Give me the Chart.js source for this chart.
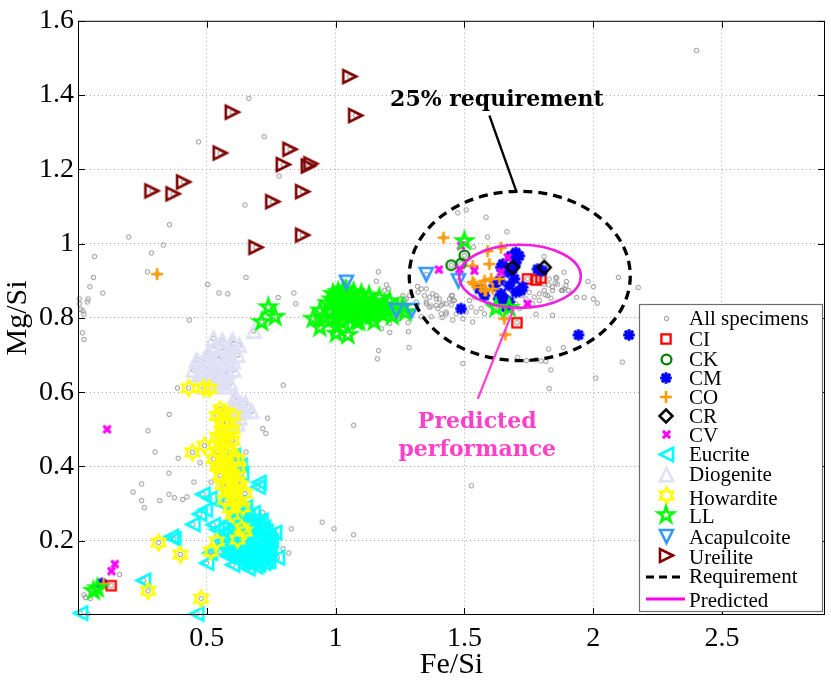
<!DOCTYPE html>
<html><head><meta charset="utf-8">
<script src="https://cdn.jsdelivr.net/npm/chart.js@4.4.1/dist/chart.umd.min.js"></script>
<style>html,body{margin:0;padding:0;background:#fff;overflow:hidden}#wrap{width:831px;height:684px;position:relative}</style>
</head><body><div id="wrap"><canvas id="c" width="831" height="684"></canvas></div>
<script>
// ---------------- DATA (Fe/Si, Mg/Si) ----------------
const groupNames = ['All specimens','CI','CK','CM','CO','CR','CV','Eucrite','Diogenite','Howardite','LL','Acapulcoite','Ureilite'];
const xTickValues = [0.5,1,1.5,2,2.5];
const yTickValues = [0.2,0.4,0.6,0.8,1,1.2,1.4,1.6];

const otherSpecimens = [
 [0.468,1.274],[0.663,1.391],[0.723,1.288],[0.781,1.182],[0.648,1.104],[0.355,1.051],[0.197,1.018],[0.285,0.975],[0.331,0.996],[0.270,0.924],
 [0.064,0.965],[0.060,0.909],[0.046,0.884],[0.096,0.867],[0.039,0.851],[0.036,0.843],[0.005,0.851],[0.005,0.838],[0.010,0.823],[0.019,0.819],
 [0.023,0.810],[0.017,0.760],[0.023,0.742],[0.432,0.794],[0.503,0.890],[0.547,0.867],[0.581,0.865],[0.652,0.909],[0.777,0.855],[0.838,0.867],
 [0.845,0.838],[1.166,0.924],[1.158,0.899],[2.401,1.520],
 [0.386,0.611],[0.797,0.619],[0.354,0.540],[0.272,0.496],[0.736,0.530],[0.717,0.502],[0.729,0.489],[0.299,0.439],[0.389,0.422],[0.474,0.410],
 [0.353,0.382],[0.652,0.439],[0.450,0.358],[0.517,0.358],[0.247,0.353],[0.214,0.331],[0.353,0.325],[0.374,0.316],[0.406,0.311],[0.423,0.318],
 [0.317,0.308],[0.247,0.308],[0.257,0.289],[0.717,0.276],[0.948,0.250],[0.994,0.232],[0.828,0.232],[1.070,0.216],[1.070,0.511],[0.796,0.179],
 [0.818,0.167],[0.161,0.109],[0.023,0.054],[0.029,0.047],[0.048,0.044],[0.038,0.003],
 [1.167,0.712],[1.162,0.690],[1.285,0.720],[1.494,0.677],[1.707,0.694],[1.741,0.685],[1.527,0.348],
 [2.098,0.909],[2.175,0.882],[1.980,0.898],[2.001,0.884],[1.936,0.855],[1.965,0.855],[2.001,0.851],[2.016,0.840],[1.896,0.898],[1.887,0.878],
 [1.904,0.874],[1.877,0.874],[1.858,0.907],[1.853,0.894],[1.809,0.965],[1.827,0.889],[1.842,0.874],[1.814,0.862],[1.836,0.853],[2.113,0.681],
 [1.827,0.716],[1.884,0.720],[1.836,0.660],[2.010,0.638],[1.829,0.610],[1.798,0.684],[1.816,0.683],
 [1.507,1.091],[1.584,1.071],[1.474,1.083],[1.665,1.032],[1.590,1.018],[1.535,0.991],[1.371,0.803],[1.410,0.811],[1.455,0.847],[1.449,0.860],
 [1.778,0.687],[1.778,0.810],[1.842,0.807],[1.887,0.923],
 [1.197,0.889],[1.206,0.878],[1.190,0.874],[1.261,0.860],[1.274,0.851],[1.287,0.860],[1.268,0.847],[1.249,0.851],[1.318,0.885],[1.333,0.878],
 [1.352,0.878],[1.320,0.869],[1.345,0.860],[1.365,0.856],[1.391,0.860],[1.403,0.851],[1.313,0.843],[1.352,0.838],[1.365,0.829],[1.391,0.834],
 [1.410,0.834],[1.429,0.838],[1.453,0.860],[1.461,0.847],[1.429,0.816],[1.468,0.811],[1.333,0.803],[1.236,0.803],[1.249,0.798],[1.281,0.787],
 [1.210,0.785],[1.178,0.771],[1.210,0.761],[1.283,0.763],[1.139,0.811],[1.158,0.816],[1.171,0.829],[1.152,0.834],[1.165,0.847],[1.132,0.856],
 [1.184,0.807],[1.249,0.829],[1.377,0.865],[1.391,0.851],[1.352,0.843],[1.371,0.832],[1.397,0.825],[1.416,0.838],[1.442,0.851],[1.449,0.835],
 [1.429,0.811],[1.507,0.816],[1.526,0.829],[1.545,0.816],[1.565,0.825],[1.578,0.811],[1.520,0.847],[1.539,0.856],[1.597,0.838],[1.616,0.829],
 [1.642,0.838],[1.681,0.851],[1.700,0.838],[1.720,0.860],[1.739,0.851],[1.713,0.825],[1.752,0.869],[1.771,0.856],[1.791,0.865],[1.810,0.874],
 [1.823,0.860],[1.842,0.883],[1.861,0.891],[1.810,0.891],[1.829,0.905],[1.855,0.909],[1.881,0.874],[1.894,0.887],[1.791,0.847],[1.765,0.838],
 [1.662,0.807],[1.494,0.798],[1.532,0.789],[1.455,0.794],[1.414,0.801]
];
const ciData = [[1.745,0.905],[1.778,0.902],[1.797,0.907],[1.704,0.787],[0.129,0.079]];
const ckData = [[1.449,0.942],[1.500,0.968],[1.487,0.946]];
const cmData = [[1.700,0.976],[1.713,0.967],[1.681,0.967],[1.649,0.945],[1.642,0.936],[1.687,0.931],[1.700,0.949],[1.668,0.923],[1.694,0.905],[1.636,0.900],
 [1.616,0.887],[1.558,0.878],[1.578,0.860],[1.642,0.865],[1.655,0.851],[1.674,0.843],[1.726,0.883],[1.720,0.874],[1.784,0.931],[1.803,0.927],
 [1.487,0.825],[1.674,0.887],[1.700,0.869],[1.662,0.829],[1.633,0.851],[1.943,0.754],[2.139,0.754],[0.092,0.085]];
const coData = [[1.419,1.016],[1.590,0.980],[1.642,0.989],[1.597,0.945],[1.532,0.940],[1.539,0.891],[1.578,0.900],[1.604,0.905],[1.636,0.905],[1.578,0.874],
 [1.610,0.878],[1.565,0.883],[1.655,0.798],[1.659,0.755],[1.532,0.896],[1.584,0.874],[0.307,0.918],[0.099,0.084]];
const crData = [[1.687,0.936],[1.810,0.936]];
const cvData = [[1.401,0.930],[1.487,0.994],[1.481,0.931],[1.539,0.927],[1.668,0.963],[1.642,0.923],[1.745,0.838],[0.113,0.500],[0.143,0.137],[0.130,0.118]];
const eucriteData = [[0.010,0.005],[0.461,0.003],[0.254,0.093],[0.363,0.211],[0.372,0.205],[0.472,0.272],[0.446,0.244],[0.494,0.283],[0.485,0.325],[0.512,0.314],
 [0.557,0.300],[0.525,0.243],[0.499,0.140],[0.513,0.167],[0.703,0.357],[0.699,0.345],[0.763,0.222],[0.774,0.154],[0.730,0.145],[0.634,0.256],
 [0.589,0.251],[0.576,0.225],[0.603,0.429],[0.629,0.403],[0.635,0.380],[0.620,0.300],
 [0.560,0.200],[0.580,0.180],[0.600,0.160],[0.620,0.150],[0.640,0.140],[0.660,0.140],[0.680,0.145],[0.700,0.150],[0.720,0.160],[0.740,0.180],
 [0.590,0.215],[0.610,0.195],[0.630,0.175],[0.650,0.165],[0.670,0.160],[0.690,0.170],[0.710,0.190],[0.730,0.205],[0.600,0.235],[0.620,0.225],
 [0.640,0.205],[0.660,0.190],[0.680,0.200],[0.700,0.215],[0.720,0.235],[0.650,0.245],[0.670,0.230],[0.690,0.240],[0.620,0.265],[0.640,0.280],
 [0.660,0.265],[0.710,0.255],[0.580,0.160],[0.550,0.170],[0.600,0.135],[0.660,0.125],[0.690,0.130],[0.740,0.145],[0.750,0.200],[0.540,0.230],
 [0.570,0.190],[0.590,0.170],[0.610,0.175],[0.630,0.155],[0.650,0.150],[0.670,0.145],[0.690,0.155],[0.710,0.165],[0.730,0.175],[0.745,0.165],
 [0.560,0.215],[0.580,0.205],[0.600,0.205],[0.620,0.205],[0.640,0.185],[0.660,0.175],[0.680,0.180],[0.700,0.185],[0.720,0.195],[0.740,0.210],
 [0.610,0.245],[0.630,0.240],[0.650,0.225],[0.670,0.210],[0.690,0.220],[0.710,0.230],[0.730,0.225],[0.680,0.255],[0.700,0.245],[0.600,0.280],
 [0.650,0.290],[0.680,0.275],[0.610,0.150],[0.640,0.160],[0.700,0.135],[0.720,0.140]];
const diogeniteData = [[0.526,0.745],[0.603,0.731],[0.626,0.727],[0.506,0.707],[0.532,0.724],[0.552,0.696],[0.584,0.714],[0.603,0.683],[0.474,0.674],[0.448,0.660],
 [0.500,0.660],[0.539,0.669],[0.578,0.678],[0.603,0.660],[0.461,0.634],[0.526,0.643],[0.565,0.634],[0.590,0.625],[0.487,0.616],[0.552,0.616],
 [0.461,0.687],[0.616,0.576],[0.648,0.549],[0.616,0.545],[0.674,0.549],[0.603,0.514],[0.629,0.531],[0.683,0.765],[0.520,0.690],[0.570,0.650],
 [0.640,0.560],[0.600,0.560],
 [0.490,0.690],[0.510,0.680],[0.540,0.700],[0.560,0.720],[0.580,0.700],[0.500,0.640],[0.540,0.650],[0.580,0.655],[0.470,0.650],[0.510,0.625],
 [0.540,0.625],[0.570,0.615],[0.620,0.700],[0.600,0.740],[0.560,0.740],[0.610,0.590],[0.630,0.570],[0.650,0.570],[0.590,0.545],[0.620,0.515]];
const howarditeData = [[0.429,0.611],[0.487,0.611],[0.510,0.609],[0.552,0.554],[0.571,0.545],[0.603,0.536],[0.539,0.536],[0.578,0.518],[0.558,0.496],[0.444,0.438],
 [0.491,0.456],[0.526,0.420],[0.552,0.456],[0.578,0.465],[0.590,0.438],[0.603,0.420],[0.558,0.403],[0.590,0.394],[0.623,0.394],[0.552,0.376],
 [0.590,0.367],[0.610,0.340],[0.648,0.327],[0.603,0.305],[0.590,0.287],[0.623,0.305],[0.636,0.234],[0.648,0.225],[0.619,0.203],[0.313,0.195],
 [0.397,0.163],[0.539,0.198],[0.516,0.171],[0.272,0.065],[0.478,0.044],[0.570,0.430],[0.540,0.440],[0.620,0.360],[0.580,0.330],[0.600,0.470],
 [0.560,0.470],[0.580,0.490],[0.560,0.520],[0.600,0.500],[0.540,0.480],[0.620,0.420],[0.570,0.400],[0.600,0.380],[0.580,0.350],[0.630,0.350],
 [0.610,0.320],[0.570,0.310],[0.640,0.290],[0.600,0.270],[0.540,0.400],[0.560,0.350]];
const llData = [[0.739,0.829],[0.765,0.803],[0.713,0.789],[0.913,0.798],[0.939,0.774],[1.003,0.758],[1.048,0.754],[1.500,1.007],[1.623,0.827],[1.674,0.827],
 [0.060,0.065],[0.075,0.072],
 [0.960,0.800],[0.980,0.815],[1.000,0.830],[1.010,0.845],[1.020,0.860],[1.030,0.875],[1.040,0.850],[1.050,0.835],[1.060,0.820],[1.070,0.805],
 [1.080,0.790],[1.000,0.800],[1.020,0.790],[1.040,0.810],[1.060,0.860],[1.080,0.845],[1.090,0.830],[1.100,0.815],[1.110,0.850],[1.120,0.835],
 [1.130,0.820],[1.140,0.805],[1.150,0.840],[1.160,0.825],[1.170,0.855],[1.180,0.810],[1.190,0.835],[1.200,0.820],[1.210,0.845],[1.220,0.805],
 [1.240,0.825],[1.260,0.830],[1.270,0.815],[0.990,0.865],[1.010,0.870],[1.040,0.875],[1.070,0.870],[1.100,0.865],[1.130,0.860],[0.970,0.840],
 [0.940,0.820],[1.025,0.820],[1.055,0.800],[1.115,0.800],[1.150,0.790],[1.090,0.790],[1.005,0.775],[0.985,0.850],[1.045,0.840],[1.075,0.825]];
const acapulcoiteData = [[1.042,0.896],[1.236,0.820],[1.296,0.820],[1.352,0.917],[1.477,0.900]];
const ureiliteData = [[1.055,1.450],[1.078,1.345],[0.599,1.354],[0.552,1.244],[0.823,1.254],[0.797,1.213],[0.894,1.209],[0.904,1.215],[0.872,1.140],[0.756,1.113],
 [0.872,1.023],[0.691,0.990],[0.287,1.142],[0.369,1.134],[0.410,1.166]];

// requirement / predicted ellipses: centre and half-axes in data units
const requirementEllipse = {cx:1.715, cy:0.913, rx:0.429, ry:0.228};
const predictedEllipse   = {cx:1.716, cy:0.912, rx:0.236, ry:0.085};

// ---------------- MARKERS ----------------
function makeMarker(kind, color, s, lw){
  const S = Math.ceil(2*s + 2*lw + 6);
  const cv = document.createElement('canvas'); cv.width = S; cv.height = S;
  const c = cv.getContext('2d');
  c.translate(S/2, S/2);
  c.strokeStyle = color; c.lineWidth = lw; c.lineJoin = 'miter'; c.miterLimit = 4;
  c.beginPath();
  const star = (n, inner) => {
    for (let i=0;i<2*n;i++){
      const r = i%2===0 ? s : s*inner;
      const a = -Math.PI/2 + i*Math.PI/n;
      const px = r*Math.cos(a), py = r*Math.sin(a);
      if (i===0) c.moveTo(px,py); else c.lineTo(px,py);
    }
    c.closePath();
  };
  switch(kind){
    case 'dot': case 'circle': c.arc(0,0,s,0,2*Math.PI); break;
    case 'square': c.rect(-s,-s,2*s,2*s); break;
    case 'plus': c.moveTo(-s,0);c.lineTo(s,0);c.moveTo(0,-s);c.lineTo(0,s); break;
    case 'x': c.moveTo(-s,-s);c.lineTo(s,s);c.moveTo(-s,s);c.lineTo(s,-s); break;
    case 'asterisk': { const d=s*0.72; c.moveTo(-s,0);c.lineTo(s,0);c.moveTo(0,-s);c.lineTo(0,s);
      c.moveTo(-d,-d);c.lineTo(d,d);c.moveTo(-d,d);c.lineTo(d,-d); break; }
    case 'diamond': c.moveTo(0,-s);c.lineTo(s,0);c.lineTo(0,s);c.lineTo(-s,0);c.closePath(); break;
    case 'triUp': c.moveTo(0,-s);c.lineTo(s,s);c.lineTo(-s,s);c.closePath(); break;
    case 'triDown': c.moveTo(0,s);c.lineTo(s,-s);c.lineTo(-s,-s);c.closePath(); break;
    case 'triLeft': c.moveTo(-s,0);c.lineTo(s,-s);c.lineTo(s,s);c.closePath(); break;
    case 'triRight': c.moveTo(s,0);c.lineTo(-s,-s);c.lineTo(-s,s);c.closePath(); break;
    case 'pentagram': star(5,0.382); break;
    case 'hexagram': star(6,0.577); break;
  }
  c.stroke();
  return cv;
}
const markers = {
  'All specimens': makeMarker('dot','#8c8c8c',2.2,1),
  'CI': makeMarker('square','#ff0000',4.6,2.3),
  'CK': makeMarker('circle','#008000',4.9,2.3),
  'CM': makeMarker('asterisk','#0000ff',5.8,3),
  'CO': makeMarker('plus','#ff9c00',6,2.6),
  'CR': makeMarker('diamond','#000000',6.5,2.5),
  'CV': makeMarker('x','#ff00ff',3.6,2.9),
  'Eucrite': makeMarker('triLeft','#00ffff',6.6,2.6),
  'Diogenite': makeMarker('triUp','#e0e0f6',6.6,2.6),
  'Howardite': makeMarker('hexagram','#ffff00',7.6,2.6),
  'LL': makeMarker('pentagram','#00ff00',8.2,2.6),
  'Acapulcoite': makeMarker('triDown','#3399ff',6.5,2.6),
  'Ureilite': makeMarker('triRight','#800000',6.5,2.6)
};

const toPts = arr => arr.map(p => ({x:p[0], y:p[1]}));
const groups = {
  'CI':ciData,'CK':ckData,'CM':cmData,'CO':coData,'CR':crData,'CV':cvData,'Eucrite':eucriteData,
  'Diogenite':diogeniteData,'Howardite':howarditeData,'LL':llData,'Acapulcoite':acapulcoiteData,'Ureilite':ureiliteData
};
const allSpecimens = otherSpecimens.concat(...Object.values(groups));

// "All specimens" drawn underneath (highest order), later groups drawn on top
const datasets = [];
datasets.push({label:'All specimens', data:toPts(allSpecimens), pointStyle:markers['All specimens'], pointRadius:3, order:100, clip:false});
groupNames.slice(1).forEach((name,i) => {
  datasets.push({label:name, data:toPts(groups[name]), pointStyle:markers[name], pointRadius:5, order:groupNames.length - i, clip:false});
});

// ---------------- PLUGIN: frame, ticks, ellipses, notes, legend ----------------
const decor = {
  id:'decor',
  afterDatasetsDraw(chart){
    const {ctx, chartArea:a, scales:{x, y}} = chart;
    const X = v => x.getPixelForValue(v), Y = v => y.getPixelForValue(v);
    ctx.save();
    const ell = (e, color, lw, dash) => {
      ctx.beginPath();
      ctx.ellipse(X(e.cx), Y(e.cy), X(e.cx+e.rx)-X(e.cx), Y(e.cy)-Y(e.cy+e.ry), 0, 0, 2*Math.PI);
      ctx.strokeStyle = color; ctx.lineWidth = lw; ctx.setLineDash(dash); ctx.stroke(); ctx.setLineDash([]);
    };
    ell(requirementEllipse, '#000', 3.3, [9,6]);
    ell(predictedEllipse, '#f020e0', 2.6, []);
    ctx.lineWidth = 2.3; ctx.strokeStyle = '#000';
    ctx.beginPath(); ctx.moveTo(X(1.597),Y(1.345)); ctx.lineTo(X(1.701),Y(1.142)); ctx.stroke();
    ctx.strokeStyle = '#ff40d0';
    ctx.beginPath(); ctx.moveTo(X(1.552),Y(0.582)); ctx.lineTo(X(1.694),Y(0.829)); ctx.stroke();
    ctx.textAlign = 'center'; ctx.textBaseline = 'middle';
    ctx.font = 'bold 22px "DejaVu Serif"';
    ctx.fillStyle = '#000';
    ctx.fillText('25% requirement', X(1.626), Y(1.387));
    ctx.fillStyle = '#ff40c8';
    ctx.fillText('Predicted', X(1.550), Y(0.518));
    ctx.fillText('performance', X(1.550), Y(0.444));
    ctx.strokeStyle = '#000'; ctx.lineWidth = 1;
    ctx.strokeRect(a.left+0.5, a.top+0.5, a.right-a.left-1, a.bottom-a.top-1);
    ctx.beginPath();
    xTickValues.forEach(v => { const p = Math.round(X(v))+0.5;
      ctx.moveTo(p, a.bottom); ctx.lineTo(p, a.bottom-7); ctx.moveTo(p, a.top); ctx.lineTo(p, a.top+7); });
    yTickValues.forEach(v => { const p = Math.round(Y(v))+0.5;
      ctx.moveTo(a.left, p); ctx.lineTo(a.left+7, p); ctx.moveTo(a.right, p); ctx.lineTo(a.right-7, p); });
    ctx.stroke();
    const L = {x:639.5, y:304.5, w:183, h:307};
    ctx.fillStyle = '#fff'; ctx.fillRect(L.x, L.y, L.w, L.h);
    ctx.strokeStyle = '#6e6e6e'; ctx.lineWidth = 1.2; ctx.strokeRect(L.x, L.y, L.w, L.h);
    const rows = [
      ['All specimens',318.5,319.3],['CI',339,340.7],['CK',359,360],['CM',377.5,379.3],['CO',396.7,398.3],['CR',416,417.7],
      ['CV',434.5,436],['Eucrite',454,455],['Diogenite',474,475],['Howardite',495,499],['LL',515,517.7],['Acapulcoite',536.7,538.3],
      ['Ureilite',555.5,558.3]
    ];
    ctx.font = '21px "Liberation Serif"'; ctx.fillStyle = '#000'; ctx.textAlign = 'left'; ctx.textBaseline = 'middle';
    rows.forEach(([name, my, ty]) => {
      const m = markers[name];
      ctx.drawImage(m, Math.round(666 - m.width/2), Math.round(my - m.height/2));
      ctx.fillText(name, 689, ty);
    });
    ctx.lineWidth = 3.2; ctx.strokeStyle = '#000'; ctx.setLineDash([8,5]);
    ctx.beginPath(); ctx.moveTo(646, 577); ctx.lineTo(685, 577); ctx.stroke(); ctx.setLineDash([]);
    ctx.strokeStyle = '#ff00ee';
    ctx.beginPath(); ctx.moveTo(646, 599); ctx.lineTo(685, 599); ctx.stroke();
    ctx.fillText('Requirement', 689, 577.3);
    ctx.fillText('Predicted', 689, 601.7);
    ctx.restore();
  }
};

const tickFont = {family:'"Liberation Serif"', size:28};
const gridColor = (lo, hi) => c => (c.tick && (c.tick.value <= lo + 1e-9 || c.tick.value >= hi - 1e-9)) ? 'rgba(0,0,0,0)' : '#a8a8a8';

new Chart(document.getElementById('c'), {
  type:'scatter',
  data:{datasets},
  plugins:[decor],
  options:{
    responsive:false, animation:false, events:[],
    layout:{padding:{top:14, right:4, left:0, bottom:0}},
    plugins:{legend:{display:false}, tooltip:{enabled:false}},
    scales:{
      x:{type:'linear', min:0, max:2.9,
        ticks:{stepSize:0.5, includeBounds:false, autoSkip:false, maxRotation:0, color:'#000', font:tickFont, padding:7,
          callback:v => v === 0 ? '' : String(Math.round(v*10)/10)},
        grid:{color:gridColor(0, 2.9), lineWidth:1, drawTicks:false},
        border:{display:false, dash:[1,3]},
        title:{display:true, text:'Fe/Si', color:'#000', font:{family:'"Liberation Serif"', size:30}, padding:{top:0, bottom:1}},
        afterFit:s => { s.height = 69; }
      },
      y:{type:'linear', min:0, max:1.6,
        ticks:{stepSize:0.2, autoSkip:false, color:'#000', font:tickFont, padding:4,
          callback:v => v === 0 ? '' : String(Math.round(v*10)/10)},
        grid:{color:gridColor(0, 1.6), lineWidth:1, drawTicks:false},
        border:{display:false, dash:[1,3]},
        title:{display:true, text:'Mg/Si', color:'#000', font:{family:'"Liberation Serif"', size:30}, padding:{top:0, bottom:0}},
        afterFit:s => { s.width = 78; }
      }
    }
  }
});
</script></body></html>
